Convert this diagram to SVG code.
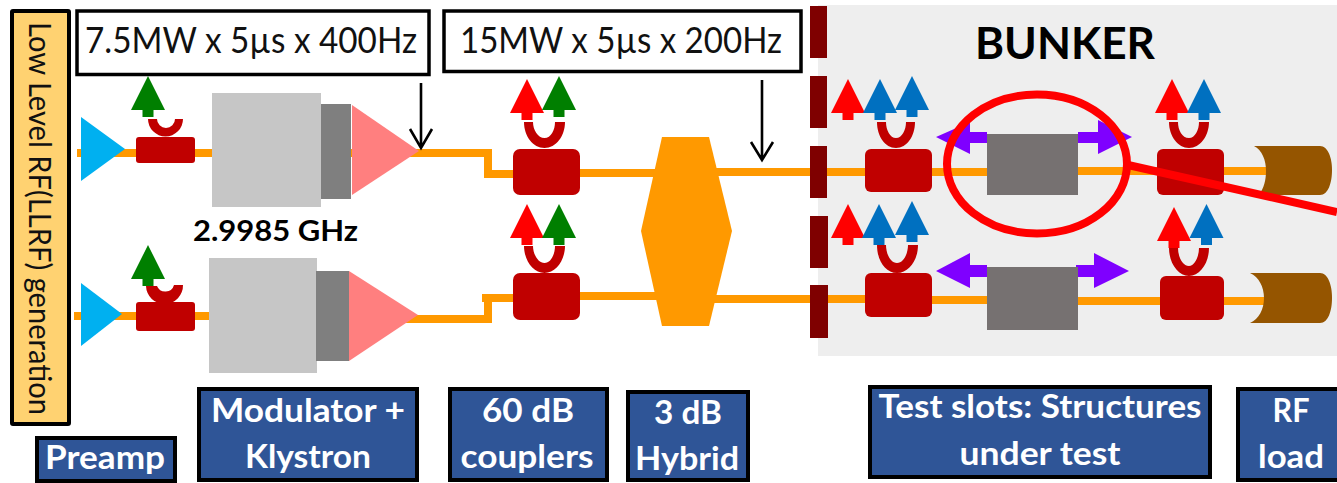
<svg xmlns="http://www.w3.org/2000/svg" xmlns:xlink="http://www.w3.org/1999/xlink" width="1337" height="483" viewBox="0 0 1337 483">
<style>
.t{font-family:"Lato","Open Sans","Liberation Sans",sans-serif}
.lab{fill:#2f5597;stroke:#000;stroke-width:4}
.labt{font-family:"Lato","Open Sans","Liberation Sans",sans-serif;font-weight:700;font-size:33px;fill:#fff;text-anchor:middle}
.pw{fill:#fff;stroke:#000;stroke-width:3.5}
.pwt{font-family:"Lato","Open Sans","Liberation Sans",sans-serif;font-size:36px;fill:#111}
.rf{fill:none;stroke:#ff9900;stroke-width:8}
.cp{fill:#c00000}
.u{fill:#c00000}
.wall{fill:#7f0000}
.dut{fill:#767171}
.load{fill:#955500}
.pr{fill:#7f00ff}
.ptr{fill:none;stroke:#000;stroke-width:2.6}
.kl{fill:#c6c6c6}.kg{fill:#7f7f7f}.kp{fill:#ff7f7f}
</style>
<defs>
<path id="aup" d="M0,0L17,34H5.5V41H-5.5V34H-17Z"/>
</defs>
<rect id="bunker" x="818" y="5" width="519" height="351" fill="#eeeeee"/>
<g id="connectors">
<path class="rf" d="M77,153H212M351,153H419"/>
<path class="rf" d="M410,153H488V174H513"/>
<path class="rf" d="M580,173H670M700,172H866M932,172H988M1078,171H1158M1224,171H1270"/>
<path class="rf" d="M74,316H210M405,319H488V298H482H513"/>
<path class="rf" d="M580,296H670M700,299H866M932,300H988M1076,301H1160M1224,301H1270"/>
<path class="ptr" d="M421,83V148M410,129L421,148L432,129"/>
<path class="ptr" d="M762,80V160M751,142L762,160L773,142"/>
</g>
<g id="llrf"><rect x="12" y="11" width="57" height="413" fill="#ffd271" stroke="#000" stroke-width="4" rx="1"/>
<text class="t" transform="translate(29,22) rotate(90)" font-size="31" fill="#111" textLength="393" lengthAdjust="spacingAndGlyphs">Low Level RF(LLRF) generation</text></g>
<g id="power-7-5"><rect class="pw" x="77" y="11" width="352" height="63.500"/><text class="pwt" x="85" y="53" textLength="332" lengthAdjust="spacingAndGlyphs">7.5MW x 5µs x 400Hz</text></g>
<g id="power-15"><rect class="pw" x="444" y="11" width="357" height="60.500"/><text class="pwt" x="460" y="53" textLength="322" lengthAdjust="spacingAndGlyphs">15MW x 5µs x 200Hz</text></g>
<g id="preamp-1"><path fill="#00b0f0" d="M81,117L125,149L81,181Z"/></g>
<g id="preamp-2"><path fill="#00b0f0" d="M81,283L122,314L81,346Z"/></g>
<g id="coupler-a1"><rect class="cp" x="136" y="137" width="59" height="26" rx="3"/><path class="u" d="M148,119H157A9,9 0 0 0 175,119H183A17.500,17.500 0 0 1 148,119Z"/><use href="#aup" transform="translate(148,76)" fill="#007f00"/></g>
<g id="coupler-a2"><rect class="cp" x="136" y="302" width="59" height="29" rx="3"/><path class="u" d="M146,286H157A9,9 0 0 0 174,285H183A18,18 0 0 1 146,286Z"/><use href="#aup" transform="translate(148,245)" fill="#007f00"/></g>
<g id="klystron-1"><rect class="kl" x="212" y="93" width="109" height="114"/><rect class="kg" x="321" y="104" width="30" height="95"/><path class="kp" d="M352,105L419,151L352,195Z"/></g>
<g id="klystron-2"><rect class="kl" x="209" y="258" width="108" height="115"/><rect class="kg" x="316" y="271" width="33" height="90"/><path class="kp" d="M349,271L418,315L349,361Z"/></g>
<text id="freq" class="t" x="193" y="241" font-size="28" font-weight="700" fill="#000" textLength="165" lengthAdjust="spacingAndGlyphs">2.9985 GHz</text>
<g id="coupler-b1"><use href="#aup" transform="translate(527,79)" fill="#ff0000"/><use href="#aup" transform="translate(559,76)" fill="#007f00"/><path class="u" d="M524,122H533C533,130 538,138 544.500,138C551,138 555,130 555,122H565C565,136 556,148 544.500,148C533,148 524,136 524,122Z"/><rect class="cp" x="513" y="149" width="67" height="46" rx="7"/></g>
<g id="coupler-b2"><use href="#aup" transform="translate(527,204)" fill="#ff0000"/><use href="#aup" transform="translate(559,204)" fill="#007f00"/><path class="u" d="M524,246H533C533,254 538,263 544.500,263C551,263 555,254 555,246H565C565,260 556,273 544.500,273C533,273 524,260 524,246Z"/><rect class="cp" x="513" y="273" width="67" height="47" rx="7"/></g>
<g id="hybrid"><path fill="#ff9900" d="M662,137H709L732,231L709,326H662L641,231Z"/></g>
<g id="wall"><rect class="wall" x="810" y="6" width="17" height="52"/><rect class="wall" x="810" y="76" width="17" height="52"/><rect class="wall" x="810" y="146" width="17" height="52"/><rect class="wall" x="810" y="216" width="18" height="52"/><rect class="wall" x="810" y="285" width="18" height="53"/></g>
<text id="bunker-title" class="t" x="975" y="59" font-size="44" font-weight="700" fill="#000" textLength="180" lengthAdjust="spacingAndGlyphs">BUNKER</text>
<g id="coupler-c1"><use href="#aup" transform="translate(848,79)" fill="#ff0000"/><use href="#aup" transform="translate(880,79)" fill="#0070c0"/><use href="#aup" transform="translate(912,76)" fill="#0070c0"/><path class="u" d="M877,122H886C886,130 890,138 896,138C902,138 906,130 906,122H915C915,136 907,148 896,148C885,148 877,136 877,122Z"/><rect class="cp" x="865" y="149" width="67" height="43" rx="6"/></g>
<g id="coupler-c2"><use href="#aup" transform="translate(848,204)" fill="#ff0000"/><use href="#aup" transform="translate(879,204)" fill="#0070c0"/><use href="#aup" transform="translate(912,201)" fill="#0070c0"/><path class="u" d="M877,245H886C886,253 890,263 897,263C904,263 908,253 908,245H918C918,260 909,273 897,273C885,273 877,260 877,245Z"/><rect class="cp" x="865" y="273" width="67" height="44" rx="6"/></g>
<g id="coupler-d1"><use href="#aup" transform="translate(1172,79)" fill="#ff0000"/><use href="#aup" transform="translate(1204,79)" fill="#0070c0"/><path class="u" d="M1169,122H1178C1178,130 1182,138 1189,138C1195,138 1199,130 1199,122H1209C1209,136 1200,148 1189,148C1178,148 1169,136 1169,122Z"/><rect class="cp" x="1157" y="149" width="67" height="46" rx="6"/></g>
<g id="coupler-d2"><use href="#aup" transform="translate(1174,207)" fill="#ff0000"/><use href="#aup" transform="translate(1206.500,204)" fill="#0070c0"/><path class="u" d="M1169,248H1178C1178,256 1182,266 1189,266C1195,266 1199,256 1199,248H1209C1209,263 1200,276 1189,276C1178,276 1169,263 1169,248Z"/><rect class="cp" x="1160" y="276" width="64" height="44" rx="6"/></g>
<g id="dut-1"><path class="pr" d="M936,137L970,122V132H987V143H970V154Z"/><path class="pr" d="M1078,132H1098V120L1132,137L1098,154V143H1078Z"/><rect class="dut" x="987" y="134" width="91" height="61"/></g>
<g id="dut-2"><path class="pr" d="M936,271L970,253V265H987V277H970V288Z"/><path class="pr" d="M1076,265H1094V253L1129,271L1094,288V277H1076Z"/><rect class="dut" x="987" y="267" width="91" height="63"/></g>
<g id="load-1"><path class="load" d="M1254,146H1320C1328,146 1332,158 1332,170C1332,183 1328,195 1320,195H1259C1264,188 1266,180 1266,171C1266,160 1262,150 1254,146Z"/></g>
<g id="load-2"><path class="load" d="M1250,273H1320C1328,273 1332,285 1332,298C1332,311 1328,323 1320,323H1250C1259,319 1264,309 1264,298C1264,287 1259,277 1250,273Z"/></g>
<g id="highlight"><ellipse cx="1037" cy="164" rx="90" ry="69.500" fill="none" stroke="#ff0000" stroke-width="8"/><path d="M1128,165L1337,212" fill="none" stroke="#ff0000" stroke-width="8"/></g>
<g id="label-preamp"><rect class="lab" x="37" y="438" width="138" height="43"/><text class="labt" x="105" y="469" textLength="120" lengthAdjust="spacingAndGlyphs">Preamp</text></g>
<g id="label-modulator"><rect class="lab" x="199" y="389" width="218" height="91"/><text class="labt" x="308" y="422" textLength="194" lengthAdjust="spacingAndGlyphs">Modulator +</text><text class="labt" x="308" y="468" textLength="126" lengthAdjust="spacingAndGlyphs">Klystron</text></g>
<g id="label-couplers"><rect class="lab" x="450" y="389" width="157" height="91"/><text class="labt" x="528" y="422" textLength="92" lengthAdjust="spacingAndGlyphs">60 dB</text><text class="labt" x="527" y="468" textLength="133" lengthAdjust="spacingAndGlyphs">couplers</text></g>
<g id="label-hybrid"><rect class="lab" x="628" y="392" width="120" height="88"/><text class="labt" x="688" y="424" textLength="68" lengthAdjust="spacingAndGlyphs">3 dB</text><text class="labt" x="687" y="470" textLength="104" lengthAdjust="spacingAndGlyphs">Hybrid</text></g>
<g id="label-test"><rect class="lab" x="870" y="387" width="340" height="90"/><text class="labt" x="1040" y="418" textLength="323" lengthAdjust="spacingAndGlyphs">Test slots: Structures</text><text class="labt" x="1040" y="465" textLength="161" lengthAdjust="spacingAndGlyphs">under test</text></g>
<g id="label-load"><rect class="lab" x="1238" y="389" width="103" height="91"/><text class="labt" x="1291" y="422" textLength="37" lengthAdjust="spacingAndGlyphs">RF</text><text class="labt" x="1291" y="468" textLength="66" lengthAdjust="spacingAndGlyphs">load</text></g>
</svg>
